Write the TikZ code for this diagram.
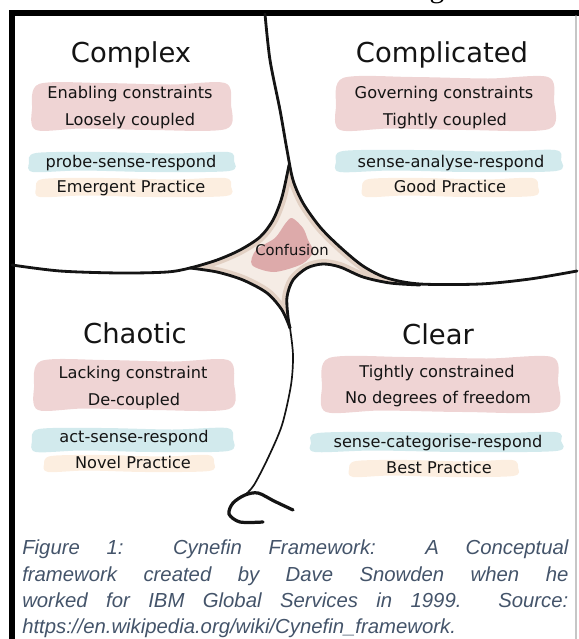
\documentclass[tikz,border=0pt]{standalone}
\usepackage{fontspec}
\setmainfont{Liberation Serif}
\newfontfamily\handfont{DejaVu Sans}
\newfontfamily\capfont{Liberation Sans}
\usepackage{tikz}
\usepackage{xcolor}
\definecolor{inkgray}{HTML}{141414}
\definecolor{brushpink}{HTML}{EFD4D4}
\definecolor{brushteal}{HTML}{D2EAED}
\definecolor{brushpeach}{HTML}{FCEEE0}
\definecolor{confbeige}{HTML}{F5ECE5}
\definecolor{confedge}{HTML}{E2D0C3}
\definecolor{confpink}{HTML}{DDAAAA}
\definecolor{captionblue}{HTML}{44546A}
\newcommand\confusionpath{plot[smooth] coordinates {(289,165) (293,180) (303,203) (320,227) (340,247) (363,266) (387,278) (420,284)}
  -- plot[smooth] coordinates {(420,285) (390,283) (363,277) (340,267) (323,264) (307,268) (293,280) (287,297) (288,317) (290,328)}
  -- plot[smooth] coordinates {(290,328) (282,310) (267,293) (243,280) (217,272) (190,268)}
  -- plot[smooth] coordinates {(190,268) (217,260) (240,250) (260,237) (273,220) (282,197) (289,165)} -- cycle}
% #1 colour, (#2,#3) to (#4,#5)
\newcommand\brushstroke[5]{\fill[#1] plot[smooth cycle,tension=0.5] coordinates {({#2+6},{#3+1}) ({#2+0.35*(#4-#2)},{#3}) ({#2+0.7*(#4-#2)},{#3+1.5}) ({#4-5},{#3}) ({#4+1},{#3+0.45*(#5-#3)}) ({#4-4},{#5-1}) ({#2+0.6*(#4-#2)},{#5}) ({#2+0.25*(#4-#2)},{#5-1.5}) ({#2+3},{#5}) ({#2-1},{#3+0.55*(#5-#3)})};}

\begin{document}
\begin{tikzpicture}[x=0.025cm,y=-0.025cm,line cap=round,
  ink/.style={line width=2pt,inkgray},
  quadtitle/.style={font=\handfont\fontsize{19.5}{22}\selectfont,text=inkgray,anchor=base},
  quadline/.style={font=\handfont\fontsize{11.5}{14}\selectfont,text=inkgray,anchor=base},
  captionline/.style={font=\capfont\itshape\fontsize{14.45}{18}\selectfont,text=captionblue,anchor=base west,inner sep=0pt}]
\useasboundingbox (0,0) rectangle (579,639);
\node[font=\fontsize{21}{24}\selectfont,anchor=base,inner sep=0pt] (headg) at (437,-3) {g};
% frame
\draw[line width=4pt] (12,639) -- (12,13) -- (579,13);
\draw[gray!45,line width=0.8pt] (576,16) -- (576,639);
% confusion
\fill[confbeige] \confusionpath;
\begin{scope}
\clip \confusionpath;
\draw[confedge,line width=7pt] \confusionpath;
\end{scope}
\fill[confpink] plot[smooth cycle] coordinates {(292,218) (303,228) (308,240) (313,252) (302,264) (274,272) (252,265) (256,250) (275,238) (285,224)};
\node[font=\handfont\fontsize{10.5}{12}\selectfont,text=inkgray,anchor=base] (confusion) at (292,255) {Confusion};
% boundaries
\draw[ink] plot[smooth] coordinates {(265,14) (270,60) (280,110) (287,150) (293,180) (303,203) (320,227) (340,247) (363,266) (387,278) (420,284) (480,284) (530,279) (577,271)};
\draw[ink] plot[smooth] coordinates {(12,265) (60,271) (120,273) (167,272) (190,268) (217,260) (240,250) (260,237) (273,220) (282,197) (289,165)};
\draw[ink] plot[smooth] coordinates {(190,268) (217,272) (243,280) (267,293) (282,310) (290,328)};
\draw[ink] plot[smooth] coordinates {(420,285) (390,283) (363,277) (340,267) (323,264) (307,268) (293,280) (287,297) (288,317) (290,328)};
\draw[ink,line width=1.2pt] plot[smooth] coordinates {(290,328) (293,355) (291,385) (282,425) (268,458) (254,485) (245,495)};
\draw[ink,line width=2.3pt] plot[smooth] coordinates {(263,522) (240,522) (229,514) (233,503) (245,495) (258,493) (274,501) (293,510)};
% brushes
\brushstroke{brushpink}{33}{83}{230}{130}
\brushstroke{brushteal}{30}{152}{233}{172}
\brushstroke{brushpeach}{37}{178}{230}{197}
\brushstroke{brushpink}{337}{77}{553}{130}
\brushstroke{brushteal}{337}{150}{560}{172}
\brushstroke{brushpeach}{363}{178}{537}{197}
\brushstroke{brushpink}{35}{360}{233}{410}
\brushstroke{brushteal}{33}{428}{232}{452}
\brushstroke{brushpeach}{45}{455}{213}{472}
\brushstroke{brushpink}{323}{357}{557}{412}
\brushstroke{brushteal}{312}{432}{560}{452}
\brushstroke{brushpeach}{350}{460}{517}{477}
% complex
\node[quadtitle] (complex) at (131,62) {Complex};
\node[quadline] (complex-1) at (130,98.5) {Enabling constraints};
\node[quadline] (complex-2) at (130,125.5) {Loosely coupled};
\node[quadline] (complex-3) at (131,167) {probe-sense-respond};
\node[quadline] (complex-4) at (131,192.5) {Emergent Practice};
% complicated
\node[quadtitle] (complicated) at (442,62) {Complicated};
\node[quadline] (complicated-1) at (444,98.5) {Governing constraints};
\node[quadline] (complicated-2) at (445,125.5) {Tightly coupled};
\node[quadline] (complicated-3) at (451,167) {sense-analyse-respond};
\node[quadline] (complicated-4) at (450,192.5) {Good Practice};
% chaotic
\node[quadtitle] (chaotic) at (135,343) {Chaotic};
\node[quadline] (chaotic-1) at (133,378.5) {Lacking constraint};
\node[quadline] (chaotic-2) at (134,405.5) {De-coupled};
\node[quadline] (chaotic-3) at (134,442.5) {act-sense-respond};
\node[quadline] (chaotic-4) at (133,468.5) {Novel Practice};
% clear
\node[quadtitle] (clear) at (438,344) {Clear};
\node[quadline] (clear-1) at (437,377.5) {Tightly constrained};
\node[quadline] (clear-2) at (438,403.5) {No degrees of freedom};
\node[quadline] (clear-3) at (438,447.5) {sense-categorise-respond};
\node[quadline] (clear-4) at (439,473.5) {Best Practice};
% caption
\node[captionline] (caption-1) at (22,554) {\makebox[13.65cm][s]{Figure 1: Cynefin Framework: A Conceptual}};
\node[captionline] (caption-2) at (22,581) {\makebox[13.65cm][s]{framework created by Dave Snowden when he}};
\node[captionline] (caption-3) at (22,607) {\makebox[13.65cm][s]{worked for IBM Global Services in 1999.\ \ Source:}};
\node[captionline] (caption-4) at (22,633) {https://en.wikipedia.org/wiki/Cynefin\_framework.};
\end{tikzpicture}
\end{document}
